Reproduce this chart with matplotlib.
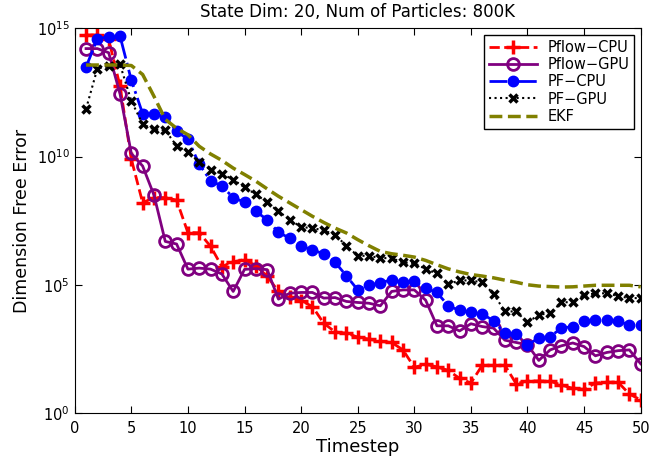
import numpy as np
import matplotlib
matplotlib.use("Agg")
import matplotlib.pyplot as plt
from matplotlib.ticker import FixedLocator, NullLocator

plt.rcParams['font.family'] = ['DejaVu Sans']

timesteps = np.arange(1, 51)

# log10 of the dimension free error
pflow_cpu = [14.74, 14.74, 14.57, 12.75, 9.9, 8.2, 8.4, 8.4, 8.3, 7.03,
             7.03, 6.5, 5.71, 5.9, 5.98, 5.75, 5.33, 4.74, 4.54, 4.38,
             4.15, 3.5, 3.16, 3.11, 2.96, 2.88, 2.79, 2.75, 2.46, 1.78,
             1.9, 1.8, 1.66, 1.35, 1.17, 1.86, 1.86, 1.86, 1.14, 1.25,
             1.25, 1.24, 1.09, 0.96, 0.92, 1.17, 1.2, 1.2, 0.74, 0.51]
pflow_gpu = [14.21, 14.21, 14.05, 12.45, 10.12, 9.63, 8.5, 6.69, 6.59, 5.61,
             5.65, 5.61, 5.42, 4.74, 5.6, 5.63, 5.59, 4.44, 4.67, 4.7,
             4.7, 4.48, 4.5, 4.35, 4.31, 4.28, 4.18, 4.74, 4.8, 4.8,
             4.4, 3.4, 3.4, 3.2, 3.48, 3.37, 3.31, 2.84, 2.75, 2.66,
             2.05, 2.46, 2.62, 2.73, 2.59, 2.23, 2.36, 2.43, 2.46, 1.92]
pf_cpu = [13.49, 14.6, 14.66, 14.7, 12.98, 11.67, 11.65, 11.54, 10.99, 10.67,
          9.7, 9.06, 8.85, 8.4, 8.22, 7.86, 7.54, 7.04, 6.82, 6.5,
          6.37, 6.2, 5.88, 5.35, 4.8, 5.0, 5.07, 5.2, 5.09, 5.13,
          4.87, 4.7, 4.18, 4.0, 3.92, 3.87, 3.59, 3.1, 3.09, 2.66,
          2.92, 2.98, 3.31, 3.37, 3.57, 3.63, 3.63, 3.57, 3.44, 3.44]
pf_gpu = [11.86, 13.43, 13.53, 13.59, 12.17, 11.26, 11.06, 11.02, 10.42, 10.19,
          9.78, 9.49, 9.33, 9.1, 8.8, 8.53, 8.21, 7.86, 7.54, 7.25,
          7.21, 7.12, 6.95, 6.52, 6.13, 6.13, 6.04, 6.04, 5.87, 5.85,
          5.61, 5.45, 5.02, 5.17, 5.17, 5.09, 4.65, 3.96, 3.96, 3.53,
          3.83, 3.89, 4.31, 4.33, 4.61, 4.66, 4.67, 4.56, 4.48, 4.48]
ekf = [13.57, 13.57, 13.57, 13.57, 13.55, 13.2, 12.35, 11.45, 11.1, 10.85,
       10.4, 10.1, 9.85, 9.55, 9.3, 9.04, 8.74, 8.45, 8.19, 7.93,
       7.67, 7.43, 7.21, 7.02, 6.76, 6.52, 6.3, 6.21, 6.15, 6.08,
       5.95, 5.78, 5.62, 5.5, 5.4, 5.34, 5.27, 5.18, 5.1, 5.0,
       4.95, 4.93, 4.91, 4.92, 4.95, 4.98, 4.98, 4.98, 4.98, 4.92]

fig = plt.figure(figsize=(6.59, 4.57), dpi=100)
ax = fig.add_axes([0.1134, 0.0963, 0.8588, 0.8417])

ax.plot(timesteps, 10 ** np.array(pflow_cpu), '--', color='red', lw=2,
        marker='+', ms=10, mew=2.5, label='Pflow\u2212CPU')
ax.plot(timesteps, 10 ** np.array(pflow_gpu), '-', color='#800080', lw=2,
        marker='o', ms=8.5, mew=2, mfc='none', label='Pflow\u2212GPU')
ax.plot(timesteps, 10 ** np.array(pf_cpu), '-.', color='blue', lw=2,
        marker='o', ms=7.5, mew=1, label='PF\u2212CPU')
ax.plot(timesteps, 10 ** np.array(pf_gpu), ':', color='black', lw=1.5,
        marker='x', ms=6, mew=2.5, label='PF\u2212GPU')
ax.plot(timesteps, 10 ** np.array(ekf), '--', color='#808000', lw=2.5,
        label='EKF')

ax.set_yscale('log')
ax.set_xlim(0, 50)
ax.set_ylim(1, 1e15)
ax.set_xticks(range(0, 51, 5))
ax.yaxis.set_major_locator(FixedLocator([1, 1e5, 1e10, 1e15]))
ax.yaxis.set_minor_locator(NullLocator())
ax.tick_params(direction='in', top=True, right=True, labelsize=10.5, length=5)
ax.tick_params(axis='x', pad=6)

ax.set_xlabel('Timestep', fontsize=13, labelpad=1)
ax.set_ylabel('Dimension Free Error', fontsize=12.5)
ax.set_title('State Dim: 20, Num of Particles: 800K', fontsize=12, pad=8)

ax.legend(loc='upper right', fontsize=10.5, fancybox=False, edgecolor='black',
          framealpha=1, handlelength=3.3, handletextpad=0.7, borderpad=0.35,
          borderaxespad=0.45, labelspacing=0.15)

plt.savefig('out.png', dpi=100)
